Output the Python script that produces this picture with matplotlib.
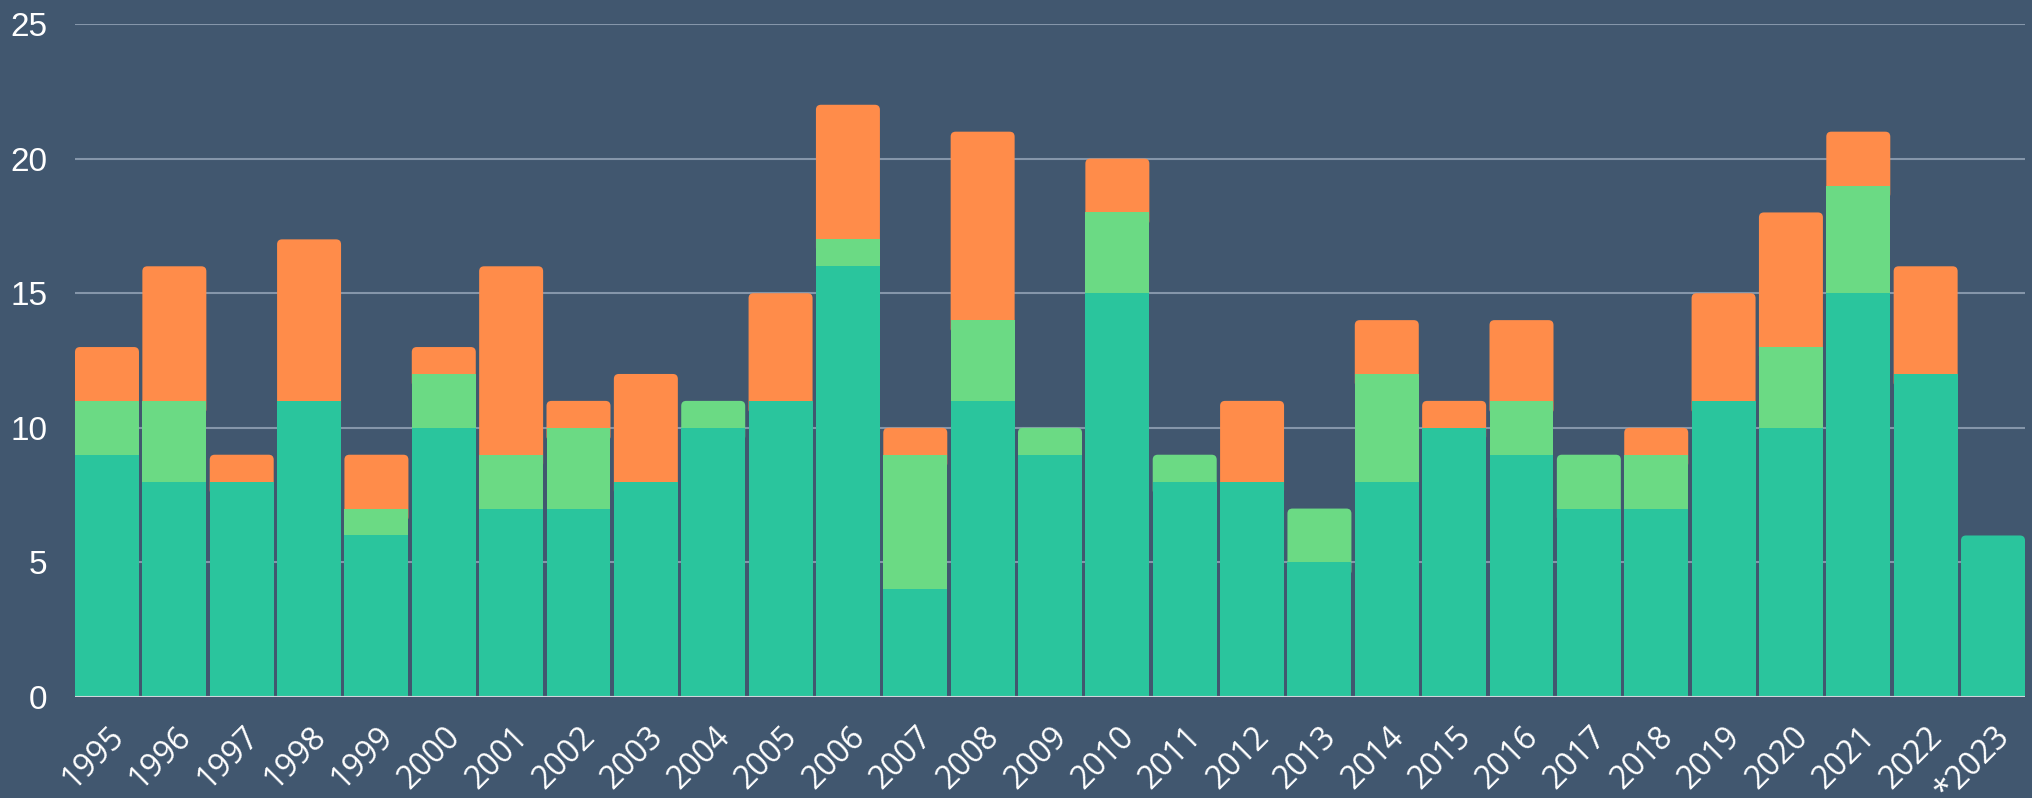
import numpy as np
import matplotlib.pyplot as plt
import matplotlib.transforms as mtransforms
from matplotlib.patches import FancyBboxPatch

years = ["1995", "1996", "1997", "1998", "1999", "2000", "2001", "2002", "2003", "2004",
         "2005", "2006", "2007", "2008", "2009", "2010", "2011", "2012", "2013", "2014",
         "2015", "2016", "2017", "2018", "2019", "2020", "2021", "2022", "*2023"]
teal = [9, 8, 8, 11, 6, 10, 7, 7, 8, 10, 11, 16, 4, 11, 9, 15, 8, 8, 5, 8,
        10, 9, 7, 7, 11, 10, 15, 12, 6]
green = [2, 3, 0, 0, 1, 2, 2, 3, 0, 1, 0, 1, 5, 3, 1, 3, 1, 0, 2, 4,
         0, 2, 2, 2, 0, 3, 4, 0, 0]
orange = [2, 5, 1, 6, 2, 1, 7, 1, 4, 0, 4, 5, 1, 7, 0, 2, 0, 3, 0, 2,
          1, 3, 0, 1, 4, 5, 2, 4, 0]

bg = "#41576f"
c_teal = "#2ac59d"
c_green = "#6bda84"
c_orange = "#ff8c4a"

fig = plt.figure(figsize=(20.32, 7.98), dpi=100, facecolor=bg)
ax = fig.add_axes([75 / 2032, 1 - 697 / 798, 1950 / 2032, 673 / 798])
ax.set_facecolor(bg)

x = np.arange(len(years))
t = np.array(teal)
g = np.array(green)
o = np.array(orange)
w = 0.95
ax.set_xlim(-0.475, len(years) - 0.525)
ax.set_ylim(0, 25)

# lower segments square, topmost segment of each bar gets rounded corners
segs = [(t, np.zeros_like(t), c_teal), (g, t, c_green), (o, t + g, c_orange)]
px_x = 1950 / len(years)
px_y = 673 / 25
r = 5 / px_x
for i in range(len(years)):
    top_k = max(k for k in range(3) if segs[k][0][i] > 0)
    for k, (vals, bot, col) in enumerate(segs):
        v = vals[i]
        if v <= 0:
            continue
        if k == top_k:
            b = bot[i] - 0.5
            p = FancyBboxPatch((x[i] - w / 2, b), w, bot[i] + v - b,
                               boxstyle=f"round,pad=0,rounding_size={r}",
                               mutation_aspect=px_x / px_y,
                               fc=col, ec="none", zorder=1.9)
            ax.add_patch(p)
        else:
            ax.bar(x[i], v, w, bottom=bot[i], color=col, zorder=2)

ax.set_yticks([0, 5, 10, 15, 20, 25])
ax.yaxis.grid(True, color="#8596aa", lw=1.5, zorder=0)
ax.axhline(0, color="#d0d6dc", lw=1.5, zorder=3)
for s in ax.spines.values():
    s.set_visible(False)
ax.tick_params(axis="both", length=0, colors="white")
ax.tick_params(axis="y", pad=20, labelsize=24)
ax.set_xticks(x)
ax.set_xticklabels(years, rotation=45, ha="right", va="center",
                   rotation_mode="anchor", fontsize=23, family="Open Sans")
ax.tick_params(axis="x", pad=25)
for lab in ax.get_yticklabels():
    lab.set_fontfamily("Liberation Sans")
off = mtransforms.ScaledTranslation(12 / 100, 0, fig.dpi_scale_trans)
for lab in ax.get_xticklabels():
    lab.set_transform(lab.get_transform() + off)

fig.savefig("out.png", dpi=100, facecolor=bg)
